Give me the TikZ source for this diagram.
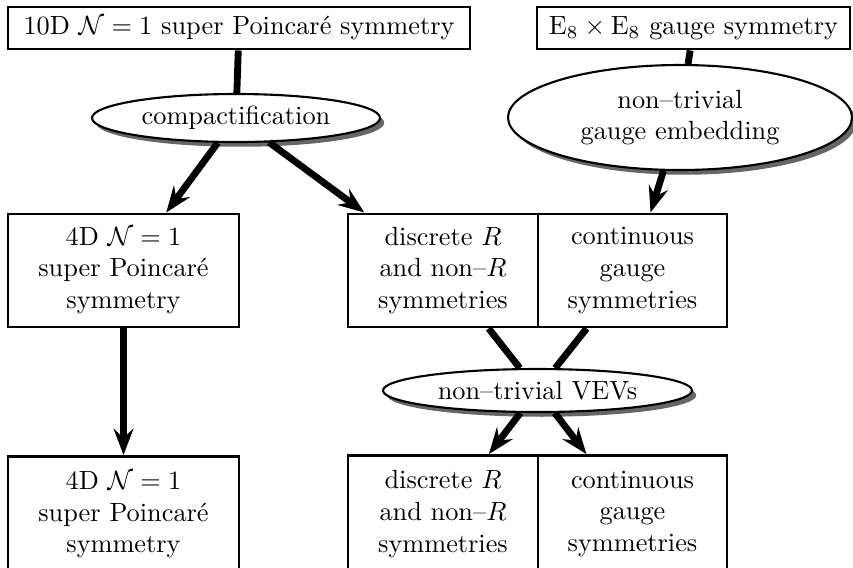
\documentclass[tikz,border=0pt]{standalone}
\usetikzlibrary{arrows.meta,shadows,shapes.geometric}
\begin{document}
\begin{tikzpicture}[x=0.38pt,y=-0.38pt,
  box/.style={draw,line width=1.1pt,align=center,inner sep=0pt},
  oval/.style={ellipse,draw,line width=0.8pt,fill=white,align=center,inner sep=0pt,
    drop shadow={shadow xshift=1.6pt,shadow yshift=-1.8pt,fill=black!60,opacity=1}},
  conn/.style={line width=2.6pt},
  arr/.style={line width=2.6pt,-{Stealth[length=10pt,width=7.5pt,inset=3.5pt]}}]
\clip (0,0) rectangle (853,567);
% top row
\node[box,minimum width={462*0.38pt},minimum height={42*0.38pt}] (top1) at (239,28)
  {10D $\mathcal{N}=1$ super Poincar\'e symmetry};
\node[box,minimum width={313*0.38pt},minimum height={42*0.38pt}] (top2) at (693.5,28)
  {$\mathrm{E}_8\times\mathrm{E}_8$ gauge symmetry};
% ellipses
\node[oval,minimum width={288*0.38pt},minimum height={48*0.38pt}] (comp) at (236,118)
  {compactification};
\node[oval,minimum width={344*0.38pt},minimum height={105*0.38pt}] (emb) at (680,117.5)
  {non--trivial\\gauge embedding};
% middle row
\node[box,minimum width={231*0.38pt},minimum height={113*0.38pt}] (m1) at (123.5,270.5)
  {4D $\mathcal{N}=1$\\super Poincar\'e\\symmetry};
\node[box,minimum width={190*0.38pt},minimum height={113*0.38pt}] (m2) at (443,270.5)
  {discrete $R$\\and non--$R$\\symmetries};
\node[box,minimum width={189*0.38pt},minimum height={113*0.38pt}] (m3) at (632.5,270.5)
  {continuous\\gauge\\symmetries};
% VEV ellipse
\node[oval,minimum width={309*0.38pt},minimum height={43*0.38pt}] (vev) at (537.5,390.5)
  {non--trivial VEVs};
% bottom row
\node[box,minimum width={231*0.38pt},minimum height={117*0.38pt}] (b1) at (123.5,515)
  {4D $\mathcal{N}=1$\\super Poincar\'e\\symmetry};
\node[box,minimum width={190*0.38pt},minimum height={117*0.38pt}] (b2) at (443,514)
  {discrete $R$\\and non--$R$\\symmetries};
\node[box,minimum width={189*0.38pt},minimum height={117*0.38pt}] (b3) at (632.5,514)
  {continuous\\gauge\\symmetries};
% connectors
\draw[conn] (top1) -- (comp);
\draw[conn] (top2) -- (emb);
\draw[arr] (comp) -- (m1);
\draw[arr] (comp) -- (m2);
\draw[arr] (emb) -- (m3);
\draw[arr] (m1) -- (b1);
\draw[conn] (m2) -- (vev);
\draw[conn] (m3) -- (vev);
\draw[arr] (vev) -- (b2);
\draw[arr] (vev) -- (b3);
\end{tikzpicture}
\end{document}
